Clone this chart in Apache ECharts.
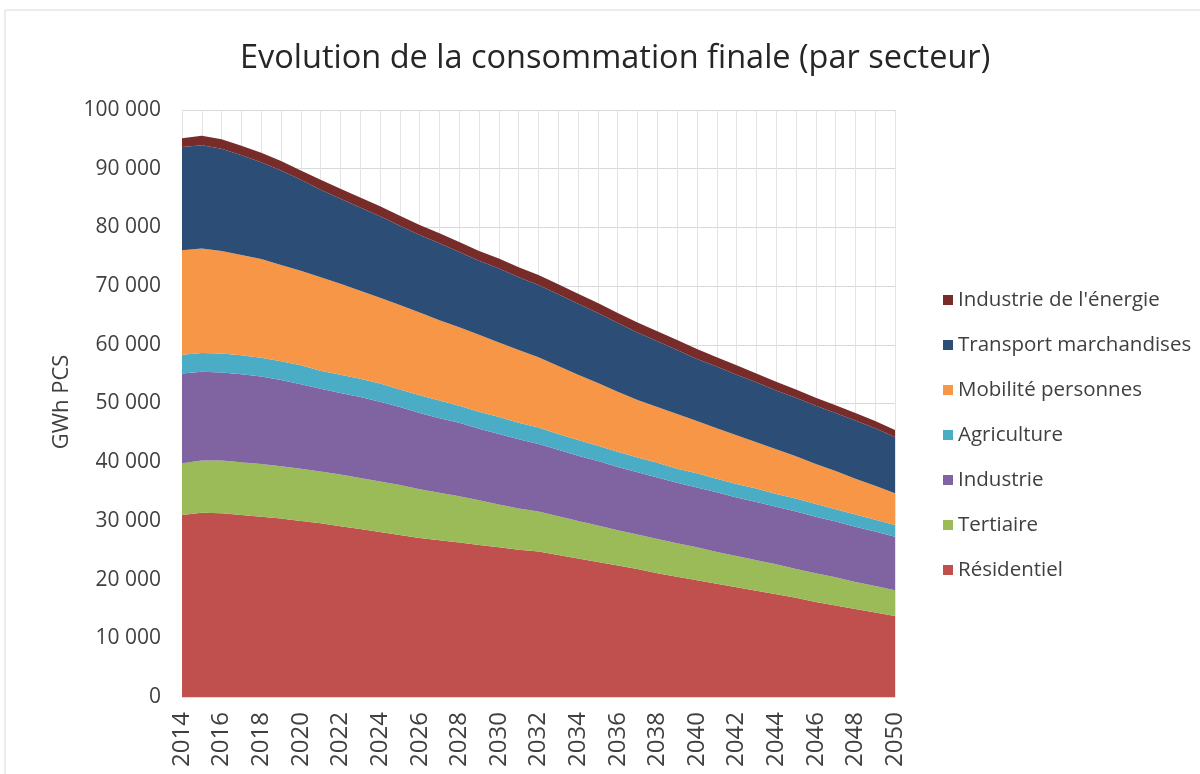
<!DOCTYPE html>
<html>
<head>
<meta charset="utf-8">
<script src="https://cdn.jsdelivr.net/npm/echarts@6/dist/echarts.min.js"></script>
<style>
  html, body { margin: 0; padding: 0; background: #ffffff; }
  #chart { width: 1200px; height: 774px; }
</style>
</head>
<body>
<div id="chart"></div>
<script>
// ---- Data (GWh PCS) ----
const years = ['2014','2015','2016','2017','2018','2019','2020','2021','2022','2023','2024','2025','2026','2027','2028','2029','2030','2031','2032','2033','2034','2035','2036','2037','2038','2039','2040','2041','2042','2043','2044','2045','2046','2047','2048','2049','2050'];

const residentiel = [31000,31400,31300,31000,30700,30400,30000,29600,29100,28600,28100,27600,27100,26700,26300,25900,25500,25100,24800,24200,23600,23000,22400,21800,21100,20500,19900,19300,18700,18100,17500,16900,16200,15600,15000,14400,13800];
const tertiaire = [8800,8900,9000,9000,9000,8900,8900,8800,8800,8700,8600,8500,8300,8100,7900,7600,7300,7000,6800,6600,6400,6200,6000,5900,5800,5700,5600,5400,5300,5200,5100,4900,4900,4800,4600,4500,4400];
const industrie = [15300,15100,15000,15000,14900,14700,14400,14100,13900,13800,13600,13300,13000,12700,12500,12200,12000,11800,11500,11300,11100,11000,10800,10600,10500,10300,10200,10200,10000,9900,9800,9800,9600,9500,9400,9300,9100];
const agriculture = [3200,3200,3200,3200,3200,3200,3200,3100,3100,3100,3100,3000,3000,3000,2900,2900,2900,2800,2800,2700,2700,2600,2600,2500,2500,2400,2400,2300,2300,2300,2200,2200,2200,2100,2100,2000,2000];
const mobilite = [17800,17800,17500,17100,16800,16400,16100,15900,15500,15000,14600,14400,14100,13700,13400,13100,12700,12400,12000,11600,11100,10700,10200,9800,9500,9300,8900,8600,8300,7900,7600,7200,6800,6500,6100,5800,5400];
const transport = [17600,17600,17400,17000,16500,16100,15500,14900,14500,14200,13900,13500,13200,13100,12800,12600,12600,12400,12300,12200,12100,11900,11700,11500,11200,10900,10600,10500,10300,10200,10000,10000,9900,9900,9900,9800,9600];
const energie = [1500,1600,1600,1600,1600,1600,1600,1700,1700,1700,1700,1700,1700,1700,1700,1700,1700,1700,1700,1700,1700,1700,1700,1700,1700,1700,1700,1600,1600,1500,1500,1400,1400,1300,1300,1200,1200];

const seriesNames = ['Résidentiel','Tertiaire','Industrie','Agriculture','Mobilité personnes','Transport marchandises',"Industrie de l'énergie"];
const seriesData = [residentiel, tertiaire, industrie, agriculture, mobilite, transport, energie];
const seriesColors = ['#C0504D','#9BBB59','#8064A2','#4BACC6','#F79646','#2C4D75','#772C2A'];

const titleText = 'Evolution de la consommation finale (par secteur)';
const yAxisName = 'GWh PCS';

const FONT = '"Open Sans", "Noto Sans", sans-serif';

const chart = echarts.init(document.getElementById('chart'), null, { renderer: 'canvas' });

const option = {
  backgroundColor: '#ffffff',
  animation: false,
  title: {
    text: titleText,
    left: 235,
    top: 37,
    textStyle: { fontFamily: FONT, fontSize: 32.5, fontWeight: 'normal', color: '#262626' }
  },
  graphic: [{
    type: 'rect',
    shape: { x: 5, y: 10, width: 1200, height: 800 },
    style: { fill: 'none', stroke: '#d9d9d9', lineWidth: 1 },
    silent: true
  }, {
    type: 'text',
    x: 62,
    y: 402,
    rotation: Math.PI / 2,
    silent: true,
    style: {
      text: yAxisName,
      fontFamily: FONT,
      fontSize: 22,
      fill: '#404040',
      align: 'center',
      verticalAlign: 'middle'
    }
  }],
  legend: {
    orient: 'vertical',
    left: 938,
    top: 283,
    itemWidth: 10,
    itemHeight: 10,
    itemGap: 21,
    icon: 'rect',
    data: seriesNames.slice().reverse(),
    textStyle: { fontFamily: FONT, fontSize: 20.5, color: '#404040', lineHeight: 24 }
  },
  grid: { left: 182, right: 305, top: 110, bottom: 77, containLabel: false },
  xAxis: {
    type: 'category',
    data: years,
    boundaryGap: false,
    axisLine: { show: true, lineStyle: { color: '#d9d9d9' } },
    axisTick: { show: false },
    axisLabel: {
      interval: 1,
      rotate: 90,
      margin: 15,
      fontFamily: FONT,
      fontSize: 24,
      color: '#404040'
    },
    splitLine: { show: true, interval: 0, lineStyle: { color: '#e3e3e3', width: 1 } }
  },
  yAxis: {
    type: 'value',
    min: 0,
    max: 100000,
    interval: 10000,
    axisLine: { show: false },
    axisTick: { show: false },
    axisLabel: {
      margin: 21,
      fontFamily: FONT,
      fontSize: 21,
      color: '#404040',
      formatter: v => String(v).replace(/\B(?=(\d{3})+(?!\d))/g, ' ')
    },
    splitLine: { show: true, lineStyle: { color: '#d9d9d9', width: 1 } }
  },
  series: seriesNames.map((name, i) => ({
    name: name,
    type: 'line',
    stack: 'total',
    data: seriesData[i],
    showSymbol: false,
    symbol: 'none',
    smooth: false,
    lineStyle: { width: 0 },
    itemStyle: { color: seriesColors[i] },
    areaStyle: { color: seriesColors[i], opacity: 1 },
    emphasis: { disabled: true }
  }))
};

chart.setOption(option);
</script>
</body>
</html>
